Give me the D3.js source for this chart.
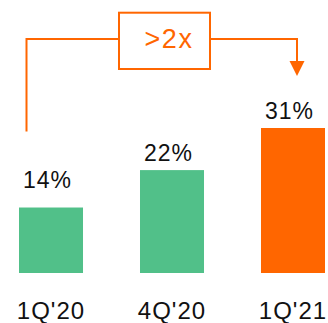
<!DOCTYPE html>
<html>
<head>
<meta charset="utf-8">
<script src="https://cdn.jsdelivr.net/npm/d3@7"></script>
<style>
  html, body { margin: 0; padding: 0; background: #fff; }
  svg { display: block; }
</style>
</head>
<body>
<svg id="chart" width="328" height="323"></svg>
<script>
const categories = ["1Q'20", "4Q'20", "1Q'21"];
const values = [14, 22, 31];
const valueLabels = ["14%", "22%", "31%"];
const annotationText = ">2x";

const green = "#51C089";
const orange = "#FF6600";
const barColors = [green, green, orange];
const labelGap = [20, 9.5, 9];

const svg = d3.select("#chart");
const font = "'Liberation Sans', Arial, Helvetica, sans-serif";

const x = d3.scaleBand().domain(categories).range([19, 325]).paddingInner(0.471).paddingOuter(0);
const y = d3.scaleLinear().domain([0, d3.max(values)]).range([273, 128]);

svg.selectAll("rect.bar")
  .data(values)
  .join("rect")
  .attr("class", "bar")
  .attr("x", (d, i) => x(categories[i]))
  .attr("y", d => y(d))
  .attr("width", x.bandwidth())
  .attr("height", d => y(0) - y(d))
  .attr("fill", (d, i) => barColors[i]);

svg.selectAll("text.val")
  .data(values)
  .join("text")
  .attr("class", "val")
  .attr("x", (d, i) => x(categories[i]) + x.bandwidth() / 2 - 3.5)
  .attr("y", (d, i) => y(d) - labelGap[i])
  .attr("text-anchor", "middle")
  .attr("font-family", font)
  .attr("font-size", 23)
  .attr("letter-spacing", 1)
  .attr("fill", "#111")
  .text((d, i) => valueLabels[i]);

svg.selectAll("text.cat")
  .data(categories)
  .join("text")
  .attr("class", "cat")
  .attr("x", d => x(d) + x.bandwidth() / 2)
  .attr("y", 318.5)
  .attr("text-anchor", "middle")
  .attr("font-family", font)
  .attr("font-size", 24)
  .attr("letter-spacing", 1)
  .attr("fill", "#111")
  .text(d => d);

// annotation connector
const xL = 26.5, xR = 297, yLine = 39;
const boxL = 119, boxR = 210, boxT = 12.7, boxB = 69;
const g = svg.append("g").attr("stroke", orange).attr("stroke-width", 2).attr("fill", "none");
g.append("path").attr("d", `M${xL},131.5 V${yLine} H${boxL}`);
g.append("path").attr("d", `M${boxR},${yLine} H${xR} V62`);
svg.append("rect").attr("x", boxL).attr("y", boxT).attr("width", boxR - boxL).attr("height", boxB - boxT)
  .attr("fill", "#fff").attr("stroke", orange).attr("stroke-width", 2);
svg.append("path").attr("d", `M${xR - 7.5},61 L${xR + 7.5},61 L${xR},76 Z`).attr("fill", orange);
svg.append("text")
  .attr("x", 169).attr("y", 48.3)
  .attr("text-anchor", "middle")
  .attr("font-family", font)
  .attr("font-size", 27)
  .attr("letter-spacing", 1.5)
  .attr("fill", orange)
  .text(annotationText);
</script>
</body>
</html>
